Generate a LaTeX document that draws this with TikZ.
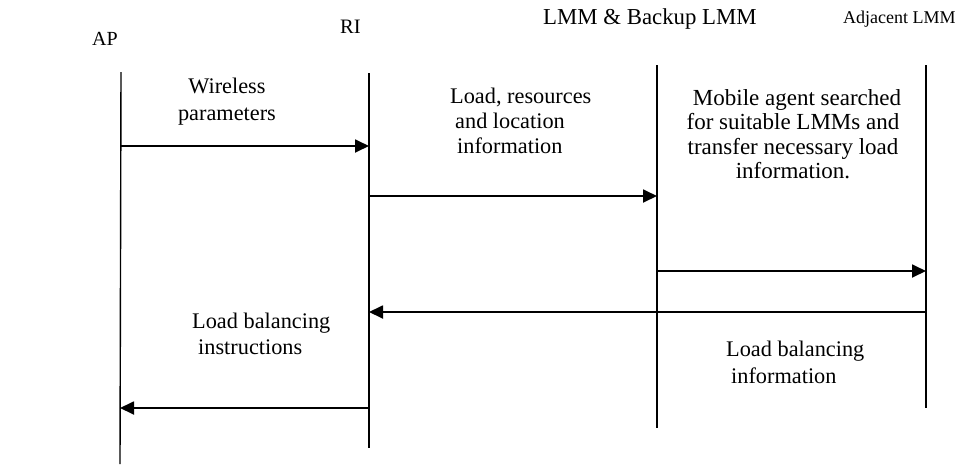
\documentclass[tikz,border=0pt]{standalone}
\usepackage{fontspec}
\setmainfont{Liberation Serif}
\usetikzlibrary{arrows.meta}
\begin{document}
\begin{tikzpicture}[x=1pt,y=-1pt,
  life/.style={line width=1.4pt},
  msg/.style={line width=1.8pt,-{Triangle[length=14pt,width=13pt]}},
  lbl/.style={inner sep=0pt, font=\fontsize{22.3}{25}\selectfont},
  head/.style={inner sep=0pt, anchor=base west},
]
\useasboundingbox (0,0) rectangle (970,464);

% headers
\node[head, font=\fontsize{20}{24}\selectfont] (apl) at (92,45) {AP};
\node[head, font=\fontsize{20.5}{24}\selectfont] (ril) at (340,33) {RI};
\node[head, font=\fontsize{22.8}{25}\selectfont] (lml) at (543,24) {LMM \& Backup LMM};
\node[head, font=\fontsize{18}{22}\selectfont] (adl) at (843,23) {Adjacent LMM};

% lifeline ends
\coordinate (apT) at (121,72);  \coordinate (apB) at (120,464);
\coordinate (riT) at (369,73);  \coordinate (riB) at (369,448);
\coordinate (lmT) at (657,65);  \coordinate (lmB) at (657,428);
\coordinate (adT) at (926,65);  \coordinate (adB) at (926,408);

\draw[life] (apT) -- (apB);
\draw[life] (riT) -- (riB);
\draw[life] (lmT) -- (lmB);
\draw[life] (adT) -- (adB);

% message end points
\coordinate (m1a) at (121,146); \coordinate (m1b) at (369,146);
\coordinate (m2a) at (369,196); \coordinate (m2b) at (657,196);
\coordinate (m3a) at (657,271); \coordinate (m3b) at (926,271);
\coordinate (m4a) at (926,312); \coordinate (m4b) at (369,312);
\coordinate (m5a) at (369,408); \coordinate (m5b) at (120,408);

\draw[msg] (m1a) -- (m1b);
\draw[msg] (m2a) -- (m2b);
\draw[msg] (m3a) -- (m3b);
\draw[msg] (m4a) -- (m4b);
\draw[msg] (m5a) -- (m5b);

% message labels
\node[lbl, anchor=base] (t1) at (227,93)
  {\begin{tabular}[t]{@{}c@{}}Wireless\\[2pt]parameters\end{tabular}};
\node[lbl, anchor=base west] (t2) at (450,103)
  {\begin{tabular}[t]{@{}l@{}}Load, resources\\\hspace*{5pt}and location\\\hspace*{7pt}information\end{tabular}};
\node[lbl, anchor=base, font=\fontsize{23}{24.5}\selectfont] (t3) at (793,105)
  {\begin{tabular}[t]{@{}c@{}}\hspace*{8pt}Mobile agent searched\\for suitable LMMs and\\transfer necessary load\\information.\end{tabular}};
\node[lbl, anchor=base west, font=\fontsize{22.3}{26}\selectfont] (t4) at (192,328)
  {\begin{tabular}[t]{@{}l@{}}Load balancing\\\hspace*{6pt}instructions\end{tabular}};
\node[lbl, anchor=base west, font=\fontsize{22.3}{27}\selectfont] (t5) at (726,356)
  {\begin{tabular}[t]{@{}l@{}}Load balancing\\\hspace*{5pt}information\end{tabular}};
\end{tikzpicture}
\end{document}
